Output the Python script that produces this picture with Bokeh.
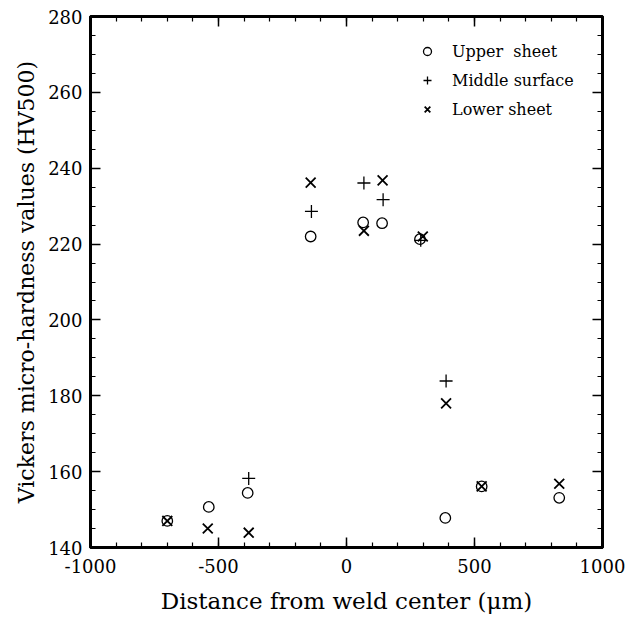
from bokeh.plotting import figure
from bokeh.models import (SingleIntervalTicker, LinearAxis, Legend, LegendItem, Range1d,
                          CustomJSTickFormatter)
from bokeh.embed import file_html
from bokeh.resources import INLINE

# Data
upper_x = [-700, -538, -386, -140, 65, 139, 287, 386, 528, 831]
upper_y = [147.0, 150.7, 154.4, 222.0, 225.7, 225.5, 221.3, 147.8, 156.1, 153.1]
middle_x = [-382, -137, 68, 143, 290, 389]
middle_y = [158.2, 228.6, 236.1, 231.7, 221.0, 183.9]
lower_x = [-700, -542, -382, -140, 68, 141, 298, 389, 528, 831]
lower_y = [147.0, 145.0, 143.9, 236.2, 223.5, 236.8, 222.0, 178.0, 156.1, 156.8]

series_names = ["Upper  sheet", "Middle surface", "Lower sheet"]

FONT = "DejaVu Serif"

p = figure(width=629, height=618, output_backend="svg", toolbar_location=None,
           x_range=Range1d(-1000, 1000), y_range=Range1d(140, 280),
           x_axis_label="Distance from weld center (\u03bcm)",
           y_axis_label="Vickers micro-hardness values (HV500)",
           min_border_left=90, min_border_right=27, min_border_top=16, min_border_bottom=71)

p.grid.visible = False
p.background_fill_color = "white"
p.border_fill_color = "white"
p.outline_line_color = "black"
p.outline_line_width = 3

plain_fmt = CustomJSTickFormatter(code="return tick.toString();")
empty_fmt = CustomJSTickFormatter(code="return '';")

def style_axis(ax, labels=True):
    ax.axis_line_width = 3
    ax.axis_line_color = "black"
    ax.major_tick_in = 10
    ax.major_tick_out = 0
    ax.minor_tick_in = 5
    ax.minor_tick_out = 0
    ax.major_tick_line_width = 1.5
    ax.minor_tick_line_width = 1.2
    ax.major_tick_line_color = "black"
    ax.minor_tick_line_color = "black"
    ax.major_label_text_font = FONT
    ax.major_label_text_font_size = "18px"
    ax.major_label_text_color = "black"
    ax.axis_label_text_font = FONT
    ax.axis_label_text_font_size = "22px"
    ax.axis_label_text_font_style = "normal"
    ax.axis_label_text_color = "black"
    if labels:
        ax.formatter = plain_fmt
    else:
        ax.formatter = empty_fmt
        ax.major_label_standoff = 0
        ax.axis_label = None

p.xaxis.ticker = SingleIntervalTicker(interval=500, num_minor_ticks=5)
p.yaxis.ticker = SingleIntervalTicker(interval=20, num_minor_ticks=4)
style_axis(p.xaxis[0])
style_axis(p.yaxis[0])
p.xaxis[0].axis_label_text_font_size = "23px"
p.xaxis[0].major_label_standoff = 11
p.xaxis[0].axis_label_standoff = 12
p.yaxis[0].major_label_standoff = 8
p.yaxis[0].axis_label_standoff = 6

top = LinearAxis(ticker=SingleIntervalTicker(interval=500, num_minor_ticks=5))
style_axis(top, labels=False)
p.add_layout(top, "above")
right = LinearAxis(ticker=SingleIntervalTicker(interval=20, num_minor_ticks=4))
style_axis(right, labels=False)
p.add_layout(right, "right")

r1 = p.scatter(upper_x, upper_y, marker="circle", size=10.5, fill_color=None,
               line_color="black", line_width=1.3)
r2 = p.scatter(middle_x, middle_y, marker="cross", size=13, line_color="black", line_width=1.3)
r3 = p.scatter(lower_x, lower_y, marker="x", size=14, line_color="black", line_width=1.8)

legend = Legend(items=[LegendItem(label=series_names[0], renderers=[r1]),
                       LegendItem(label=series_names[1], renderers=[r2]),
                       LegendItem(label=series_names[2], renderers=[r3])],
                location=(327, 428))
legend.border_line_color = None
legend.background_fill_alpha = 0
legend.label_text_font = FONT
legend.label_text_font_size = "16px"
legend.label_text_color = "black"
legend.spacing = 9
legend.glyph_width = 20
legend.label_standoff = 15
legend.padding = 10
legend.margin = 0
p.add_layout(legend)

open("out.html", "w").write(file_html(p, INLINE))
